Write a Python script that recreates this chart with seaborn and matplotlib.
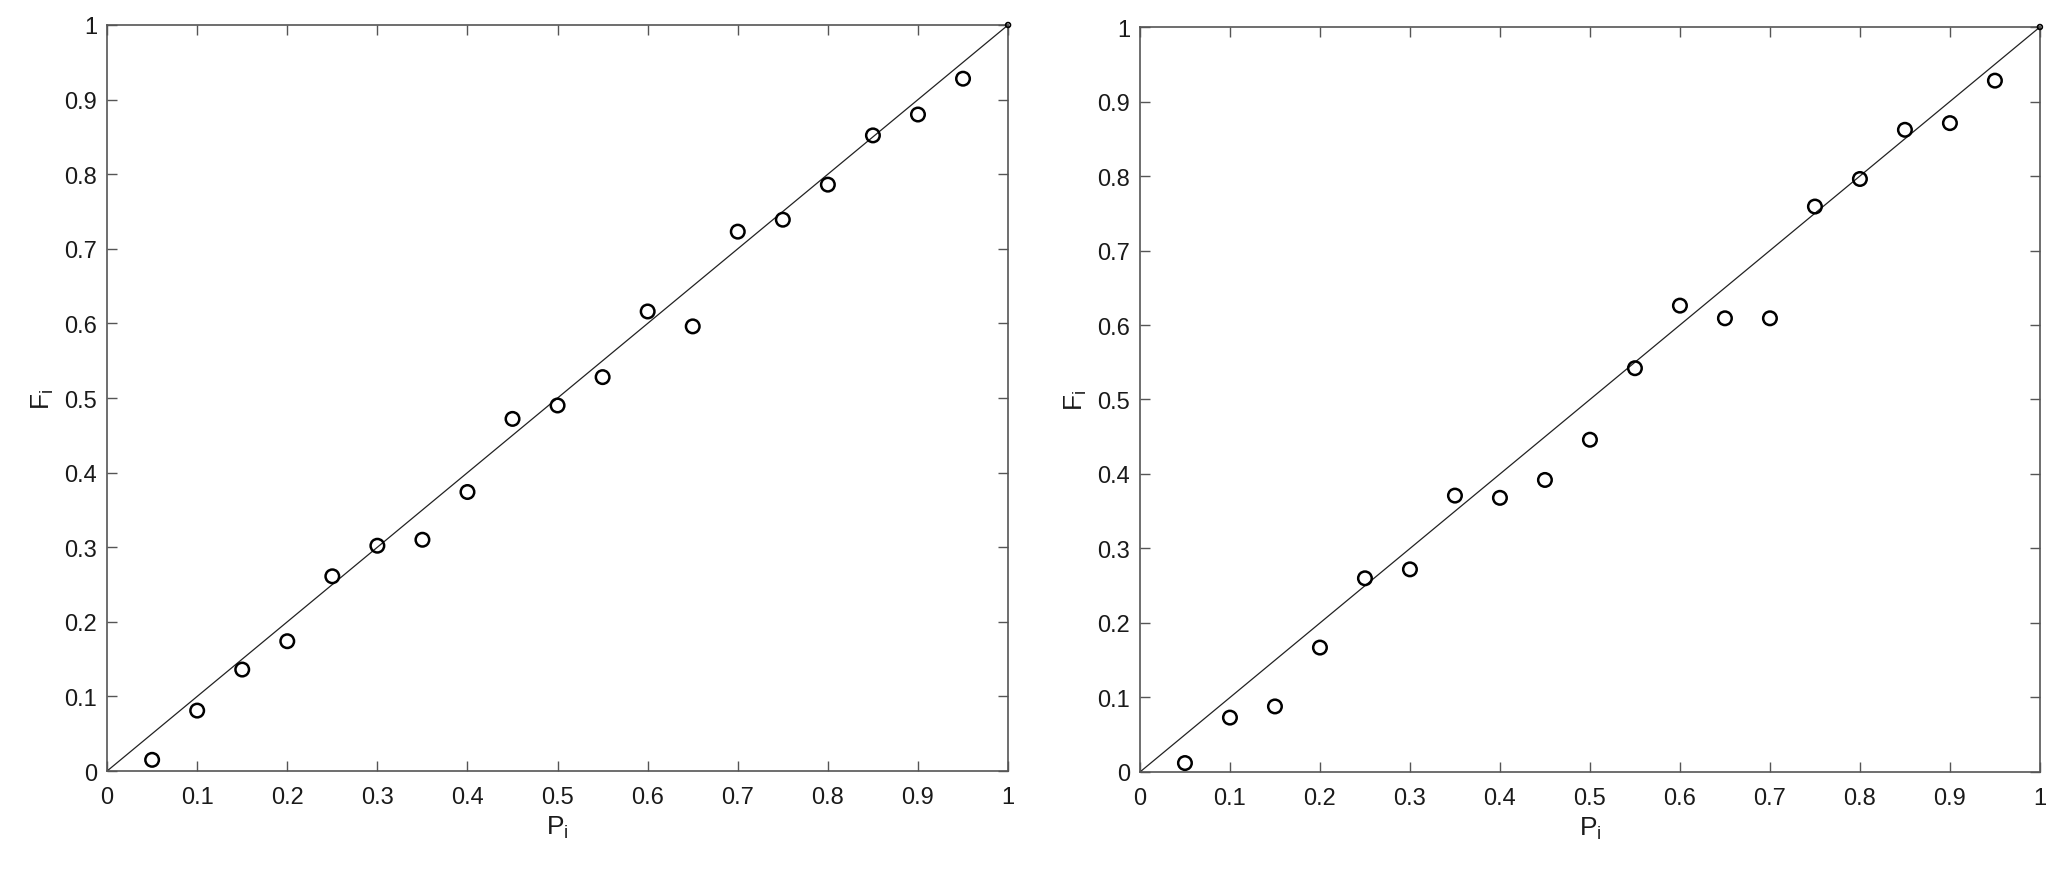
import matplotlib
matplotlib.use('Agg')
import matplotlib.pyplot as plt
import seaborn as sns
import pandas as pd

# plotting positions P_i shared by both panels
p_left = [0.05, 0.10, 0.15, 0.20, 0.25, 0.30, 0.35, 0.40, 0.45, 0.50,
          0.55, 0.60, 0.65, 0.70, 0.75, 0.80, 0.85, 0.90, 0.95]
f_left = [0.015, 0.081, 0.136, 0.174, 0.261, 0.302, 0.310, 0.374, 0.472, 0.490,
          0.528, 0.616, 0.596, 0.723, 0.739, 0.786, 0.852, 0.880, 0.928]

p_right = [0.05, 0.10, 0.15, 0.20, 0.25, 0.30, 0.35, 0.40, 0.45, 0.50,
           0.55, 0.60, 0.65, 0.70, 0.75, 0.80, 0.85, 0.90, 0.95]
f_right = [0.012, 0.073, 0.088, 0.167, 0.260, 0.272, 0.371, 0.368, 0.392, 0.446,
           0.542, 0.626, 0.609, 0.609, 0.759, 0.796, 0.862, 0.871, 0.928]

ref_line = [0.0, 1.0]
end_point = [1.0]
tick_vals = [0, 0.1, 0.2, 0.3, 0.4, 0.5, 0.6, 0.7, 0.8, 0.9, 1]
tick_labels = ['0', '0.1', '0.2', '0.3', '0.4', '0.5', '0.6', '0.7', '0.8', '0.9', '1']

sns.set_theme(style='ticks')
plt.rcParams['font.family'] = ['Liberation Sans', 'DejaVu Sans']
plt.rcParams['mathtext.fontset'] = 'custom'
plt.rcParams['mathtext.rm'] = 'Liberation Sans'
plt.rcParams['mathtext.it'] = 'Liberation Sans'

axcol = '#555555'
fig = plt.figure(figsize=(20.67, 8.78), dpi=100)
ax1 = fig.add_axes([0.0518, 0.1207, 0.4359, 0.8497])
ax2 = fig.add_axes([0.5515, 0.1196, 0.4354, 0.8485])

for ax, p, f in [(ax1, p_left, f_left), (ax2, p_right, f_right)]:
    sns.lineplot(x=ref_line, y=ref_line, ax=ax, color='#222222', linewidth=0.9)
    df = pd.DataFrame({'P': p, 'F': f})
    sns.scatterplot(data=df, x='P', y='F', ax=ax, marker='o', s=95,
                    facecolor='none', edgecolor='black', linewidth=1.8, zorder=3)
    sns.scatterplot(x=end_point, y=end_point, ax=ax, marker='o', s=12,
                    facecolor='none', edgecolor='black', linewidth=1.2, zorder=3,
                    clip_on=False)
    ax.set_xlim(0, 1)
    ax.set_ylim(0, 1)
    ax.set_xticks(tick_vals)
    ax.set_xticklabels(tick_labels)
    ax.set_yticks(tick_vals)
    ax.set_yticklabels(tick_labels)
    ax.tick_params(direction='in', length=7, width=1, color=axcol,
                   labelsize=17, labelcolor='#1a1a1a', top=True, right=True)
    ax.tick_params(axis='x', pad=11)
    ax.tick_params(axis='y', pad=7)
    for s in ax.spines.values():
        s.set_visible(True)
        s.set_color(axcol)
        s.set_linewidth(1.2)
    ax.set_xlabel(r'P$_\mathregular{i}$', fontsize=19, color='#1a1a1a', labelpad=4)
    ax.set_ylabel(r'F$_\mathregular{i}$', fontsize=19, color='#1a1a1a', labelpad=6)
    ax.set_facecolor('white')

fig.savefig('out.png', dpi=100, facecolor='white')
